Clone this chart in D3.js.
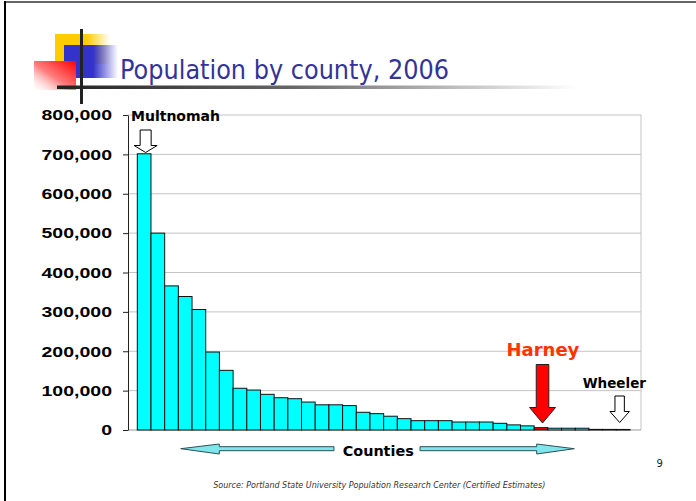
<!DOCTYPE html>
<html>
<head>
  <style>
  body {
    margin: 0;
    background: #fff;
  }
  svg {
    display: block;
    font-family: "DejaVu Sans", Verdana, sans-serif;
  }
  .axis .domain {
    stroke: #222;
  }
  .axis .tick line {
    stroke: #222;
  }
  .axis .tick text {
    font-family: "Liberation Sans", Arial, sans-serif;
    font-size: 15px;
    font-weight: bold;
    fill: #000;
  }
  .grid line {
    stroke: #c4c4c4;
  }
  </style>
</head>
<body>
  <div id="chart"></div>
  <script src="https://d3js.org/d3.v7.min.js"></script>
  <script>
  // counties ordered by 2006 population
  var counties = ["Multnomah", "Washington", "Clackamas", "Lane", "Marion", "Jackson",
    "Deschutes", "Linn", "Douglas", "Yamhill", "Benton", "Josephine", "Umatilla", "Polk",
    "Klamath", "Coos", "Lincoln", "Columbia", "Malheur", "Union", "Clatsop", "Wasco",
    "Jefferson", "Crook", "Curry", "Tillamook", "Hood River", "Baker", "Morrow", "Harney",
    "Lake", "Wallowa", "Grant", "Gilliam", "Sherman", "Wheeler"];
  var population = [701500, 500000, 366000, 339000, 306000, 198000,
    151500, 106000, 101500, 90600, 82000, 79500, 71000, 64000,
    64000, 62000, 45000, 41500, 35000, 28800, 23700, 23700,
    23700, 20300, 20300, 20300, 17000, 13000, 10500, 6000,
    4500, 4500, 4500, 1600, 1500, 1400];
  var yTicks = [0, 100000, 200000, 300000, 400000, 500000, 600000, 700000, 800000];
  var highlight = "Harney";
  var largest = "Multnomah";
  var smallest = "Wheeler";

  var data = counties.map(function(c, i){ return {county: c, pop: population[i]}; });

  var W = 696, H = 501;
  var plot = {left: 128, right: 641, top: 115, bottom: 430};

  var svg = d3.select("#chart").append("svg")
      .attr("width", W)
      .attr("height", H);

  var defs = svg.append("defs");

  function grad(id, x1, y1, x2, y2, stops){
    var g = defs.append("linearGradient").attr("id", id)
      .attr("x1", x1).attr("y1", y1).attr("x2", x2).attr("y2", y2);
    stops.forEach(function(s){
      g.append("stop").attr("offset", s[0]).attr("stop-color", s[1]).attr("stop-opacity", s[2] == null ? 1 : s[2]);
    });
  }
  grad("g-yellow", 0, 0, 1, 0, [[0, "#ffcc00"], [0.58, "#ffcc00"], [1, "#ffcc00", 0]]);
  grad("g-blue", 0, 0, 1, 0, [[0, "#3333cc"], [0.54, "#3333cc"], [1, "#3333cc", 0]]);
  grad("g-red", 1, 0, 0, 1, [[0, "#ff0000"], [0.55, "#ff8080"], [1, "#ffffff", 0.3]]);
  grad("g-line", 0, 0, 1, 0, [[0, "#222"], [0.45, "#666"], [1, "#fff"]]);

  // slide frame
  svg.append("line").attr("x1", 5).attr("x2", W).attr("y1", 2).attr("y2", 2)
    .attr("stroke", "#333").attr("stroke-width", 1.5);
  svg.append("line").attr("x1", 5).attr("x2", 5).attr("y1", 1).attr("y2", H)
    .attr("stroke", "#000").attr("stroke-width", 2);

  // title decoration
  var deco = svg.append("g");
  deco.append("rect").attr("x", 55).attr("y", 34).attr("width", 55).attr("height", 30).attr("fill", "url(#g-yellow)");
  deco.append("rect").attr("x", 64).attr("y", 45).attr("width", 54).attr("height", 33).attr("fill", "url(#g-blue)");
  deco.append("rect").attr("x", 34).attr("y", 61).attr("width", 42).attr("height", 29).attr("fill", "url(#g-red)");
  deco.append("rect").attr("x", 57).attr("y", 85.5).attr("width", 520).attr("height", 3.5).attr("fill", "url(#g-line)");
  deco.append("rect").attr("x", 80).attr("y", 29).attr("width", 3).attr("height", 75).attr("fill", "#222");

  svg.append("text")
      .attr("x", 120)
      .attr("y", 79)
      .attr("textLength", 329)
      .attr("lengthAdjust", "spacingAndGlyphs")
      .style("font-size", "26px")
      .style("fill", "#333399")
      .text("Population by county, 2006");

  var x = d3.scaleBand()
    .domain(counties)
    .range([137.3, 630])
    .padding(0);

  var y = d3.scaleLinear()
    .domain([0, 800000])
    .range([plot.bottom, plot.top]);

  // gridlines
  svg.append("g").attr("class", "grid")
    .selectAll("line")
    .data(yTicks.filter(function(d){ return d > 0; }))
    .enter().append("line")
      .attr("x1", plot.left)
      .attr("x2", plot.right)
      .attr("y1", function(d){ return y(d); })
      .attr("y2", function(d){ return y(d); });

  svg.append("line")
      .attr("x1", plot.right).attr("x2", plot.right)
      .attr("y1", plot.top).attr("y2", plot.bottom)
      .attr("stroke", "#c4c4c4");
  svg.append("line")
      .attr("x1", plot.left).attr("x2", plot.right)
      .attr("y1", plot.bottom).attr("y2", plot.bottom)
      .attr("stroke", "#999");

  // bars
  svg.selectAll("rect.bar")
      .data(data)
    .enter().append("rect")
      .attr("class", "bar")
      .attr("x", function(d){ return x(d.county); })
      .attr("y", function(d){ return y(d.pop); })
      .attr("width", x.bandwidth())
      .attr("height", function(d){ return y(0) - y(d.pop); })
      .attr("fill", function(d){ return d.county == highlight ? "#ff0000" : "#00ffff"; })
      .attr("stroke", "#111")
      .attr("stroke-width", 1);

  var yAxis = d3.axisLeft(y)
    .tickValues(yTicks)
    .tickFormat(d3.format(","))
    .tickSize(5)
    .tickSizeOuter(0)
    .tickPadding(11);

  var gy = svg.append("g")
      .attr("class", "y axis")
      .attr("transform", "translate(" + plot.left + ",0)")
      .call(yAxis);

  // the slide's labels are stretched sideways; widen them to match
  var stretch = 1.3;
  gy.selectAll(".tick text").each(function(){
    var w = this.getComputedTextLength();
    d3.select(this)
      .attr("textLength", w * stretch)
      .attr("lengthAdjust", "spacingAndGlyphs");
  });

  // down arrows
  function downArrow(cx, top, headTop, tip, shaftHalf, headHalf){
    return "M" + (cx - shaftHalf) + "," + top +
      "L" + (cx + shaftHalf) + "," + top +
      "L" + (cx + shaftHalf) + "," + headTop +
      "L" + (cx + headHalf) + "," + headTop +
      "L" + cx + "," + tip +
      "L" + (cx - headHalf) + "," + headTop +
      "L" + (cx - shaftHalf) + "," + headTop + "Z";
  }

  var cMult = x(largest) + x.bandwidth() / 2 + 1.5;
  svg.append("path")
      .attr("d", downArrow(cMult, 130, 145.5, 152.5, 5.5, 11.5))
      .attr("fill", "#fff").attr("stroke", "#000").attr("stroke-width", 1);
  svg.append("text")
      .attr("x", 131).attr("y", 121)
      .style("font-size", "14px").style("font-weight", "bold")
      .text(largest);

  var cHar = x(highlight) + x.bandwidth() / 2 + 1.5;
  svg.append("path")
      .attr("d", downArrow(cHar, 364.5, 407.5, 423, 6.3, 13))
      .attr("fill", "#ff0000").attr("stroke", "#222").attr("stroke-width", 1);
  svg.append("text")
      .attr("x", 506.5).attr("y", 356)
      .style("font-size", "18px").style("font-weight", "bold")
      .style("fill", "#ff3300")
      .text(highlight);

  var cWh = x(smallest) + x.bandwidth() / 2 - 3.5;
  svg.append("path")
      .attr("d", downArrow(cWh, 396, 411.5, 422.5, 4.7, 9.7))
      .attr("fill", "#fff").attr("stroke", "#000").attr("stroke-width", 1);
  svg.append("text")
      .attr("x", 582.7).attr("y", 388)
      .style("font-size", "13.5px").style("font-weight", "bold")
      .text(smallest);

  // "Counties" double arrow
  var ay = 448.7;
  var leftArrow = "M180.7," + ay + "L219.3,444L219.3," + (ay - 2) + "L334," + (ay - 2) +
    "L334," + (ay + 2) + "L219.3," + (ay + 2) + "L219.3,454Z";
  var rightArrow = "M574.3," + ay + "L536.7,444L536.7," + (ay - 2) + "L420," + (ay - 2) +
    "L420," + (ay + 2) + "L536.7," + (ay + 2) + "L536.7,454Z";
  svg.selectAll("path.xarrow")
      .data([leftArrow, rightArrow])
    .enter().append("path")
      .attr("class", "xarrow")
      .attr("d", function(d){ return d; })
      .attr("fill", "#7fe6ec").attr("stroke", "#2f4f55").attr("stroke-width", 1);

  svg.append("text")
      .attr("x", 342.7).attr("y", 455.5)
      .style("font-size", "14.4px").style("font-weight", "bold")
      .text("Counties");

  svg.append("text")
      .attr("x", 213.3).attr("y", 488)
      .attr("textLength", 332)
      .attr("lengthAdjust", "spacingAndGlyphs")
      .style("font-size", "8px").style("font-style", "italic")
      .style("fill", "#333")
      .text("Source: Portland State University Population Research Center (Certified Estimates)");

  svg.append("text")
      .attr("x", 656.5).attr("y", 467)
      .style("font-size", "10px")
      .style("fill", "#222")
      .text("9");
  </script>
</body>
</html>
